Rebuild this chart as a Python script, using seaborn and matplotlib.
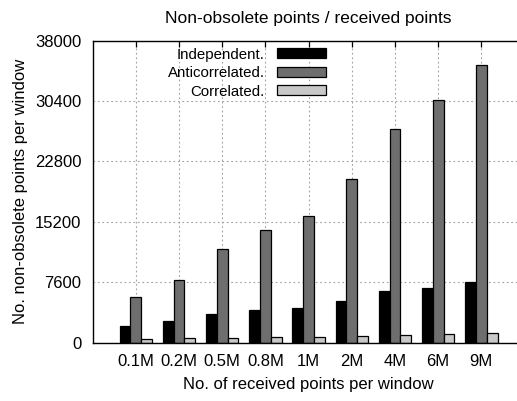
import matplotlib
matplotlib.use("Agg")
import matplotlib.pyplot as plt
import seaborn as sns
import pandas as pd

categories = ["0.1M", "0.2M", "0.5M", "0.8M", "1M", "2M", "4M", "6M", "9M"]
independent = [2100, 2750, 3650, 4100, 4400, 5250, 6450, 6900, 7600]
anticorrelated = [5800, 7900, 11750, 14200, 16000, 20600, 26850, 30600, 34900]
correlated = [460, 550, 590, 680, 680, 880, 970, 1090, 1180]
series_names = ["Independent.", "Anticorrelated.", "Correlated."]
series_colors = ["#000000", "#6e6e6e", "#c8c8c8"]
yticks = [0, 7600, 15200, 22800, 30400, 38000]

rows = []
for name, vals in zip(series_names, [independent, anticorrelated, correlated]):
    for c, v in zip(categories, vals):
        rows.append({"cat": c, "series": name, "value": v})
df = pd.DataFrame(rows)

sns.set_style("white")
plt.rcParams["font.family"] = ["Liberation Sans", "DejaVu Sans"]
plt.rcParams["text.color"] = "black"
plt.rcParams["axes.labelcolor"] = "black"
plt.rcParams["xtick.color"] = "black"
plt.rcParams["ytick.color"] = "black"

W, H = 517, 401
fig = plt.figure(figsize=(W / 100, H / 100), dpi=100)
left, right, top, bottom = 92.7, 524.5, 40.7, 342.7
ax = fig.add_axes([left / W, 1 - bottom / H, (right - left) / W, (bottom - top) / H])

sns.barplot(data=df, x="cat", y="value", hue="series", order=categories,
            hue_order=series_names, palette=series_colors, width=0.75,
            edgecolor="black", linewidth=0.9, saturation=1, ax=ax, errorbar=None)

ax.set_xlim(-1, 9)
ax.set_ylim(0, 38000)
ax.set_yticks(yticks)
ax.set_yticklabels([str(t) for t in yticks])
ax.set_axisbelow(True)
ax.grid(True, color="#a0a0a0", linestyle=(0, (1.5, 2.5)), linewidth=0.8)

for s in ax.spines.values():
    s.set_visible(True)
    s.set_color("black")
    s.set_linewidth(1.0)

ax.tick_params(axis="both", direction="in", length=4.3, width=0.9,
               top=True, right=True, labelsize=12, pad=8,
               colors="black", labelcolor="black")

ax.set_xlabel("No. of received points per window", fontsize=12, labelpad=6, color="black")
ax.set_ylabel("No. non-obsolete points per window", fontsize=12, labelpad=5, color="black")
ax.set_title("Non-obsolete points / received points", fontsize=12.5, pad=13, color="black")

leg = ax.legend(loc="upper right", bbox_to_anchor=(326 / W, 1 - 47.5 / H),
                bbox_transform=fig.transFigure, frameon=False, markerfirst=False,
                fontsize=10.8, handlelength=3.29, handleheight=0.62,
                handletextpad=0.8, labelspacing=0.3, borderpad=0, borderaxespad=0)
for t in leg.get_texts():
    t.set_color("black")

fig.savefig("out.png", dpi=100)
